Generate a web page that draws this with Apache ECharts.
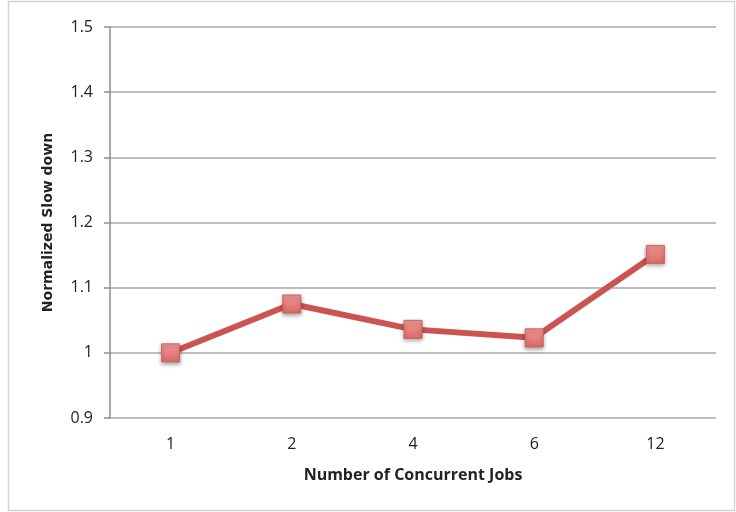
<!DOCTYPE html>
<html>
<head>
<meta charset="utf-8">
<script src="https://cdn.jsdelivr.net/npm/echarts@6/dist/echarts.min.js"></script>
<style>
  html, body { margin: 0; padding: 0; background: #ffffff; }
  #chart { width: 736px; height: 512px; }
</style>
</head>
<body>
<div id="chart"></div>
<script>
// Concurrent job counts and the measured normalized slowdown for each
const jobCounts = ['1', '2', '4', '6', '12'];
const slowdown = [1.0, 1.075, 1.036, 1.023, 1.151];
const yTicks = [0.9, 1.0, 1.1, 1.2, 1.3, 1.4, 1.5];

const labelFont = "'Open Sans', sans-serif";

const chart = echarts.init(document.getElementById('chart'), null, { renderer: 'canvas' });

chart.setOption({
  animation: false,
  backgroundColor: '#ffffff',
  graphic: [{
    type: 'rect',
    shape: { x: 8.5, y: 1.5, width: 726, height: 509 },
    style: { fill: 'none', stroke: '#d4d4d4', lineWidth: 1.5 },
    silent: true,
    z: -1
  }],
  grid: { left: 110, right: 20, top: 27, bottom: 94 },
  xAxis: {
    type: 'category',
    data: jobCounts,
    boundaryGap: true,
    name: 'Number of Concurrent Jobs',
    nameLocation: 'middle',
    nameGap: 49,
    nameTextStyle: { fontFamily: labelFont, fontWeight: 'bold', fontSize: 16, color: '#222' },
    axisLine: { show: false },
    axisTick: { show: false },
    axisLabel: { fontFamily: labelFont, fontSize: 16, color: '#222', margin: 18 }
  },
  yAxis: {
    type: 'value',
    min: yTicks[0],
    max: yTicks[yTicks.length - 1],
    interval: 0.1,
    name: 'Normalized Slow down',
    nameLocation: 'middle',
    nameGap: 55,
    nameTextStyle: { fontFamily: "'DejaVu Sans', sans-serif", fontWeight: 'bold', fontSize: 14, color: '#222' },
    axisLine: { show: true, lineStyle: { color: '#8e8e8e', width: 1.5 } },
    axisTick: { show: true, length: 6, lineStyle: { color: '#8e8e8e', width: 1.5 } },
    axisLabel: {
      fontFamily: labelFont, fontSize: 16, color: '#222', margin: 17,
      formatter: v => {
        const r = Math.round(v * 10) / 10;
        return Number.isInteger(r) ? String(r) : r.toFixed(1);
      }
    },
    splitLine: { show: true, lineStyle: { color: '#a8a8a8', width: 1.5 } }
  },
  series: [{
    type: 'line',
    data: slowdown,
    symbol: 'rect',
    symbolSize: 18,
    lineStyle: { color: '#cc5450', width: 6 },
    itemStyle: {
      color: new echarts.graphic.LinearGradient(0, 0, 0, 1, [
        { offset: 0, color: '#ee9896' },
        { offset: 1, color: '#dc6a66' }
      ]),
      borderColor: '#d0605c',
      borderWidth: 1,
      shadowColor: 'rgba(0,0,0,0.35)',
      shadowBlur: 4,
      shadowOffsetY: 2
    },
    z: 3
  }]
});
</script>
</body>
</html>
